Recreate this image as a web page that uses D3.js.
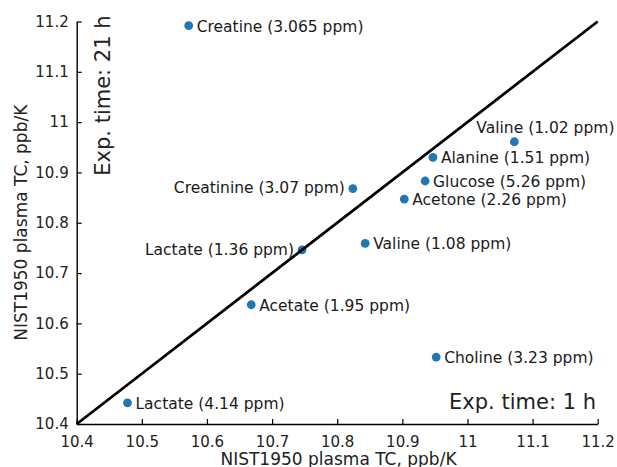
<!DOCTYPE html>
<html>
<head>
<meta charset="utf-8">
<script src="https://cdn.jsdelivr.net/npm/d3@7"></script>
<style>
  html, body { margin: 0; padding: 0; background: #fff; }
  svg { display: block; font-family: "DejaVu Sans", sans-serif; }
</style>
</head>
<body>
<svg id="chart" width="617" height="467"></svg>
<script>
// ---- data ----
const names = ["Creatine (3.065 ppm)", "Valine (1.02 ppm)", "Alanine (1.51 ppm)", "Glucose (5.26 ppm)",
  "Acetone (2.26 ppm)", "Creatinine (3.07 ppm)", "Valine (1.08 ppm)", "Lactate (1.36 ppm)",
  "Acetate (1.95 ppm)", "Choline (3.23 ppm)", "Lactate (4.14 ppm)"];
const tc1h  = [10.572, 11.072, 10.947, 10.935, 10.903, 10.824, 10.843, 10.746, 10.668, 10.952, 10.478];
const tc21h = [11.192, 10.961, 10.930, 10.883, 10.847, 10.868, 10.759, 10.746, 10.637, 10.533, 10.442];
const tickValues = [10.4, 10.5, 10.6, 10.7, 10.8, 10.9, 11.0, 11.1, 11.2];
const tickLabels = ["10.4", "10.5", "10.6", "10.7", "10.8", "10.9", "11", "11.1", "11.2"];
const identityLine = [10.4, 11.2];
// label placement side for each point (style, not data)
const labelSide = ["right", "above", "right", "right", "right", "left", "right", "left", "right", "right", "right"];

// ---- layout ----
const svg = d3.select("#chart");
const x = d3.scaleLinear().domain([10.4, 11.2]).range([76.7, 597.7]);
const y = d3.scaleLinear().domain([10.4, 11.2]).range([424, 21.5]);
const fmt = v => tickLabels[tickValues.indexOf(v)];

const xAxis = svg.append("g").attr("transform", "translate(0,424)")
  .call(d3.axisBottom(x).tickValues(tickValues).tickFormat(fmt).tickSizeInner(-5).tickSizeOuter(0).tickPadding(12));
const yAxis = svg.append("g").attr("transform", "translate(76.7,0)")
  .call(d3.axisLeft(y).tickValues(tickValues).tickFormat(fmt).tickSizeInner(-5).tickSizeOuter(0).tickPadding(8));
[xAxis, yAxis].forEach(g => {
  g.select(".domain").attr("stroke", "#000").attr("stroke-width", 1.4);
  g.selectAll(".tick line").attr("stroke", "#000").attr("stroke-width", 1.2);
  g.selectAll(".tick text").attr("fill", "#222").style("font-size", "15px").style("font-family", "DejaVu Sans");
});

// points
const idx = d3.range(names.length);
svg.append("g").selectAll("circle").data(idx).join("circle")
  .attr("cx", i => x(tc1h[i])).attr("cy", i => y(tc21h[i])).attr("r", 4.4)
  .attr("fill", "#1f77b4");

// identity line
svg.append("line")
  .attr("x1", x(identityLine[0])).attr("y1", y(identityLine[0]))
  .attr("x2", x(identityLine[1])).attr("y2", y(identityLine[1]))
  .attr("stroke", "#000").attr("stroke-width", 2.8);

// labels
svg.append("g").selectAll("text").data(idx).join("text")
  .attr("x", i => {
    const px = x(tc1h[i]);
    if (labelSide[i] === "left") return px - 8;
    if (labelSide[i] === "above") return px - 38;
    return px + 8;
  })
  .attr("y", i => {
    const py = y(tc21h[i]);
    if (labelSide[i] === "above") return py - 8.4;
    if (labelSide[i] === "left") return py + 4.8;
    return py + 6;
  })
  .attr("text-anchor", i => labelSide[i] === "left" ? "end" : "start")
  .style("font-size", "15.5px").attr("fill", "#1a1a1a")
  .text(i => names[i]);

// axis titles
svg.append("text").attr("x", 338.5).attr("y", 465).attr("text-anchor", "middle")
  .style("font-size", "17px").attr("fill", "#222").text("NIST1950 plasma TC, ppb/K");
svg.append("text").attr("transform", "translate(27,222.7) rotate(-90)").attr("text-anchor", "middle")
  .style("font-size", "17px").attr("fill", "#222").text("NIST1950 plasma TC, ppb/K");

// annotations
svg.append("text").attr("transform", "translate(109.5,175.7) rotate(-90)").attr("text-anchor", "start")
  .style("font-size", "21px").attr("fill", "#222").text("Exp. time: 21 h");
svg.append("text").attr("x", 596).attr("y", 409).attr("text-anchor", "end")
  .style("font-size", "21px").attr("fill", "#222").text("Exp. time: 1 h");
</script>
</body>
</html>
